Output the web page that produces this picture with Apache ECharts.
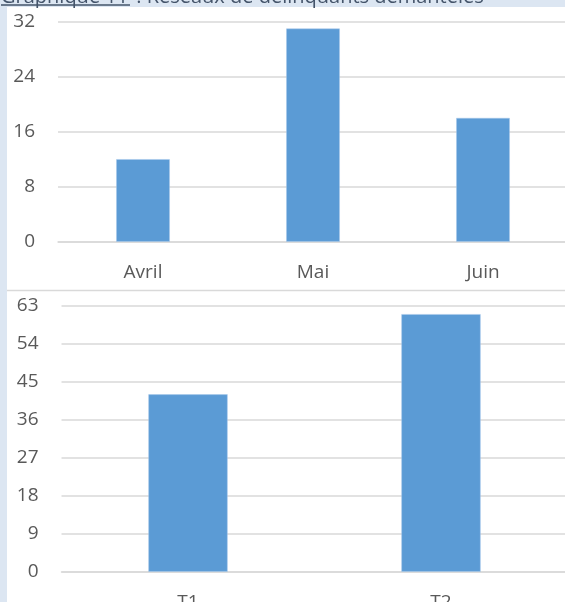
<!DOCTYPE html>
<html>
<head>
<meta charset="utf-8">
<script src="https://cdn.jsdelivr.net/npm/echarts@6/dist/echarts.min.js"></script>
<style>
html,body{margin:0;padding:0;background:#dce6f2;}
#c{width:565px;height:602px;}
</style>
</head>
<body>
<div id="c"></div>
<script>
const months = ['Avril', 'Mai', 'Juin'];
const monthValues = [12, 31, 18];
const quarters = ['T1', 'T2'];
const quarterValues = [42, 61];
const topAxis = {min: 0, max: 32, interval: 8};
const bottomAxis = {min: 0, max: 63, interval: 9};
const titleMain = 'Graphique 11';
const titleRest = ' : Réseaux de délinquants démantelés';

const FONT = '"Open Sans", "Noto Sans", sans-serif';
const labelColor = '#595959';
const gridColor = '#d9d9d9';
const barColor = '#5b9bd5';

const chart = echarts.init(document.getElementById('c'), null, {renderer: 'canvas'});

function xAx(idx, data) {
  return {
    type: 'category', gridIndex: idx, data: data,
    axisLine: {show: true, lineStyle: {color: gridColor, width: 1.5}},
    axisTick: {show: false},
    axisLabel: {color: labelColor, fontSize: 19, fontFamily: FONT, margin: 21}
  };
}
function yAx(idx, cfg) {
  return {
    type: 'value', gridIndex: idx, min: cfg.min, max: cfg.max, interval: cfg.interval,
    axisLine: {show: false}, axisTick: {show: false},
    splitLine: {show: true, lineStyle: {color: gridColor, width: 1.5}},
    axisLabel: {color: labelColor, fontSize: 19, fontFamily: FONT, margin: 23}
  };
}

chart.setOption({
  animation: false,
  backgroundColor: '#dce6f2',
  graphic: [
    {type: 'rect', shape: {x: 7, y: 7, width: 570, height: 600}, style: {fill: '#ffffff'}, z: -10},
    {type: 'line', shape: {x1: 7, y1: 290.5, x2: 565, y2: 290.5}, style: {stroke: gridColor, lineWidth: 1.5}, z: -5},
    {type: 'text', left: 1, top: -13, style: {text: titleMain, fill: '#44546a', fontSize: 20, fontFamily: FONT}, z: 5},
    {type: 'line', shape: {x1: 1, y1: 5, x2: 130, y2: 5}, style: {stroke: '#44546a', lineWidth: 1.5}, z: 5},
    {type: 'text', left: 131, top: -13, style: {text: titleRest, fill: '#44546a', fontSize: 20, fontFamily: FONT}, z: 5}
  ],
  grid: [
    {left: 58, top: 21.7, width: 510, height: 220, outerBoundsMode: 'none', containLabel: false},
    {left: 61.5, top: 305.7, width: 506, height: 266, outerBoundsMode: 'none', containLabel: false}
  ],
  xAxis: [xAx(0, months), xAx(1, quarters)],
  yAxis: [yAx(0, topAxis), yAx(1, bottomAxis)],
  series: [
    {type: 'bar', xAxisIndex: 0, yAxisIndex: 0, data: monthValues, barWidth: '31.5%',
     itemStyle: {color: barColor, borderColor: '#a9c8ea', borderWidth: 0.5}},
    {type: 'bar', xAxisIndex: 1, yAxisIndex: 1, data: quarterValues, barWidth: '31.3%',
     itemStyle: {color: barColor, borderColor: '#a9c8ea', borderWidth: 0.5}}
  ]
});
</script>
</body>
</html>
